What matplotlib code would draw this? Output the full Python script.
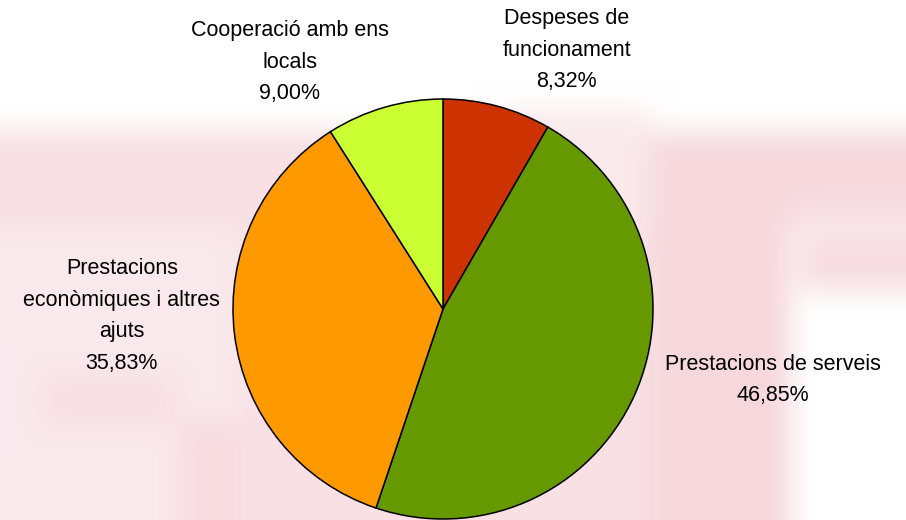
import numpy as np
import matplotlib
matplotlib.use("Agg")
import matplotlib.pyplot as plt

plt.rcParams['font.family'] = ['Liberation Sans', 'DejaVu Sans']

categories = ["Despeses de\nfuncionament", "Prestacions de serveis",
              "Prestacions\neconòmiques i altres\najuts", "Cooperació amb ens\nlocals"]
values = [8.32, 46.85, 35.83, 9.00]
value_labels = ["8,32%", "46,85%", "35,83%", "9,00%"]
colors = ["#CC3300", "#669900", "#FF9900", "#CCFF33"]
# label anchor positions (in pie-radius units)
label_pos = [(0.59, 1.233), (1.571, -0.338), (-1.529, -0.033), (-0.729, 1.176)]

W, H = 906, 520
fig = plt.figure(figsize=(W / 100, H / 100), dpi=100)

# faint blurred pink background (decorative watermark)
bg_ax = fig.add_axes([0, 0, 1, 1])
mask = np.zeros((H, W))
def rect(x0, x1, y0, y1, v=1.0):
    mask[y0:y1, x0:x1] = v
rect(0, 906, 130, 230, 0.7)
rect(650, 906, 140, 200, 0.9)
rect(640, 790, 200, 520, 0.9)
rect(800, 906, 235, 290, 0.8)
rect(0, 240, 230, 520, 0.5)
rect(40, 180, 370, 430, 0.7)
rect(180, 240, 420, 520, 0.8)
rect(240, 650, 230, 520, 0.7)
rect(500, 650, 110, 240, 0.5)
def blur(a, k):
    ker = np.ones(k) / k
    p = k // 2
    a = np.pad(a, p, mode='edge')
    a = np.apply_along_axis(lambda r: np.convolve(r, ker, mode='same'), 1, a)
    a = np.apply_along_axis(lambda c: np.convolve(c, ker, mode='same'), 0, a)
    return a[p:-p, p:-p]
mask = blur(blur(mask, 31), 31)
pink = np.array([245, 212, 217]) / 255.0
img = 1 - mask[..., None] * (1 - pink)
bg_ax.imshow(img, extent=[0, 1, 0, 1], aspect='auto', interpolation='bilinear')
bg_ax.set_axis_off()

ax = fig.add_axes([0, 0, 1, 1])
ax.set_facecolor('none')
cx, cy, r = 443, 309, 210
ax.pie(values, colors=colors, startangle=90, counterclock=False,
       radius=1.0, center=(0, 0), frame=True,
       wedgeprops=dict(edgecolor='black', linewidth=1.1))
ax.set_xlim(-cx / r, (W - cx) / r)
ax.set_ylim(-(H - cy) / r, cy / r)
ax.set_aspect('auto')
ax.set_axis_off()

for cat, vl, (x, y) in zip(categories, value_labels, label_pos):
    ax.text(x, y, cat + "\n" + vl, ha='center', va='center', fontsize=15.5,
            linespacing=1.65, color='black')

fig.savefig("out.png", dpi=100)
